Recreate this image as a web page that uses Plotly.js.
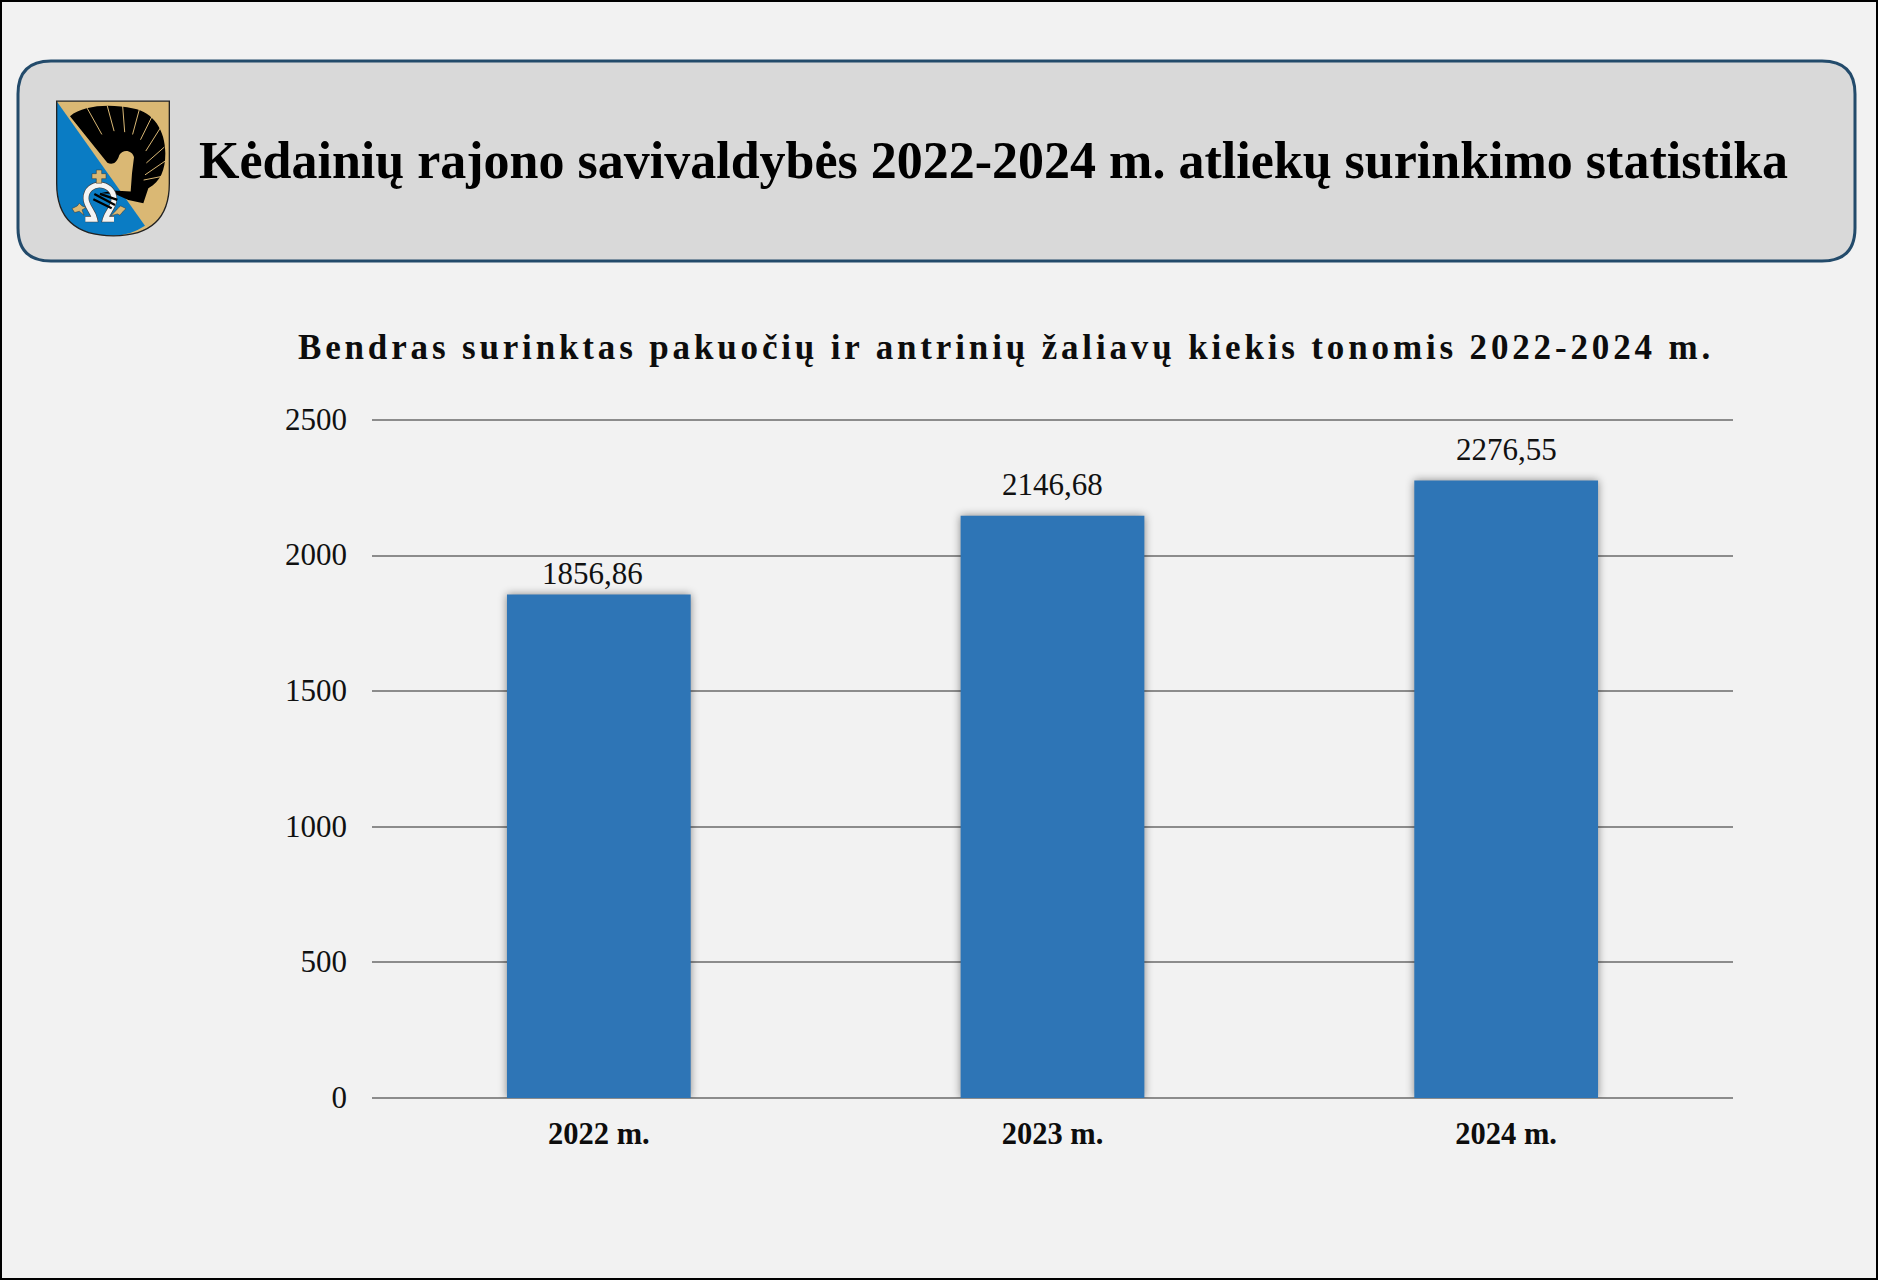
<!DOCTYPE html>
<html><head><meta charset="utf-8">
<script src="https://cdn.plot.ly/plotly-3.0.1.min.js"></script>
<style>
html,body{margin:0;padding:0;background:#f2f2f2;}
#c{width:1878px;height:1280px;}
.gtitle{letter-spacing:3.85px;}
.yaxislayer-above{transform:translateY(-1px);}
</style></head><body><div id="c"></div>
<script>
const categories = ["2022 m.","2023 m.","2024 m."];
const values = [1856.86,2146.68,2276.55];
const valueLabels = ["1856,86","2146,68","2276,55"];
const labelShiftX = [-6,0,0];
const labelShiftY = [1,12,12];
const yTicks = [0,500,1000,1500,2000,2500];
const headerText = "Kėdainių rajono savivaldybės 2022-2024 m. atliekų surinkimo statistika";
const chartTitle = "Bendras surinktas pakuočių ir antrinių žaliavų kiekis tonomis 2022-2024 m.";

const W=1878,H=1280,L=372,R=1733,T=418,B=1098;
const yTop=2500*(B-T)/678;
const px=x=>(x-L)/(R-L), py=y=>(B-y)/(B-T);
const P=(x,y)=>px(x)+' '+py(y);
const serif='"Liberation Serif","Times New Roman",serif';

const horseshoe="M256 538H284C278 510 258 500 258 475C258 448 280 435 298 435C320 435 342 450 342 478C342 502 322 515 316 538H342";
const shield=`<svg xmlns="http://www.w3.org/2000/svg" viewBox="165 178 348 415" width="348" height="415">
<path d="M170 183H508V430Q508 588 340 588Q170 588 170 430Z" fill="#dab874"/>
<path d="M170 183L435 558Q390 588 340 588Q170 588 170 430Z" fill="#0a7cc4"/>
<path d="M210 228C250 195 330 190 400 205C460 216 496 270 496 340C496 390 482 425 445 445L430 490L385 480L345 462L300 460L340 452L392 455L396 400L402 352C398 332 370 325 358 345C350 372 335 375 322 368Z" fill="#000"/>
<g fill="none" stroke="#dab874" stroke-width="3" stroke-linecap="round">
<path d="M262 205L305 282M322 198L342 272M368 198L374 275M418 208L398 282M458 225L422 298M482 262L438 332M492 322L440 368M494 364L436 404M492 408L432 420"/></g>
<path d="${horseshoe}" fill="none" stroke="#444" stroke-width="19"/>
<path d="${horseshoe}" fill="none" stroke="#f4f4f4" stroke-width="15"/>
<path d="M283 462L345 495M280 478L335 505M300 462L352 480" stroke="#000" stroke-width="7" fill="none"/>
<g fill="#dab874" stroke="#333" stroke-width="1.5">
<path d="M289 390H305V401H318V416H305V430H289V416H276V401H289Z"/>
<path d="M216 506L232 498L238 490L246 498L258 503L246 510L252 526L238 514L224 518Z"/>
<path d="M378 506L362 498L356 503L350 510L332 528L352 522L360 526L366 518Z"/></g>
<path d="M170 183H508V430Q508 588 340 588Q170 588 170 430Z" fill="none" stroke="#222" stroke-width="4"/>
</svg>`;

const trace={type:'bar',x:categories,y:values,width:0.405,
  marker:{color:'#2e75b6',line:{width:0}},hoverinfo:'skip'};

const r=33,bx0=18,bx1=1855,by0=61,by1=261;
const boxPath=`M ${P(bx0+r,by0)} L ${P(bx1-r,by0)} Q ${P(bx1,by0)} ${P(bx1,by0+r)} L ${P(bx1,by1-r)} Q ${P(bx1,by1)} ${P(bx1-r,by1)} L ${P(bx0+r,by1)} Q ${P(bx0,by1)} ${P(bx0,by1-r)} L ${P(bx0,by0+r)} Q ${P(bx0,by0)} ${P(bx0+r,by0)} Z`;

const layout={width:W,height:H,margin:{l:L,r:W-R,t:T,b:H-B,pad:0},
  paper_bgcolor:'#f2f2f2',plot_bgcolor:'#f2f2f2',showlegend:false,
  font:{family:serif,color:'#111'},
  title:{text:'<b>'+chartTitle+'</b>',font:{family:serif,size:35,color:'#0d0d0d'},
    xref:'container',yref:'container',x:1006/W,xanchor:'center',y:1-347/H,yanchor:'middle'},
  xaxis:{type:'category',categories:categories,range:[-0.5,2.5],showgrid:false,zeroline:false,showline:false,
    ticks:'',tickfont:{family:serif,size:30.5,color:'#0d0d0d'},
    tickprefix:'<b>',ticksuffix:'</b>',ticklabelstandoff:14},
  yaxis:{range:[0,yTop],tickmode:'array',tickvals:yTicks,ticktext:yTicks.map(String),
    showgrid:true,gridcolor:'#8c8c8c',gridwidth:2,zeroline:true,zerolinecolor:'#8c8c8c',zerolinewidth:2,
    showline:false,ticks:'',tickfont:{family:serif,size:31,color:'#111'},ticklabelstandoff:24},
  shapes:[
    {type:'path',xref:'paper',yref:'paper',path:boxPath,fillcolor:'#d9d9d9',line:{color:'#234b6b',width:3},layer:'below'},
    {type:'rect',xref:'paper',yref:'paper',x0:px(1),x1:px(W-1),y0:py(1),y1:py(H-1),line:{color:'#000',width:2},fillcolor:'rgba(0,0,0,0)'}
  ],
  images:[{source:'data:image/svg+xml;charset=utf-8,'+encodeURIComponent(shield),xref:'paper',yref:'paper',
    x:px(55),y:py(99.5),sizex:px(171)-px(55),sizey:py(99.5)-py(237.5),sizing:'stretch',xanchor:'left',yanchor:'top',layer:'above'}],
  annotations:[
    {xref:'paper',yref:'paper',x:px(197),y:py(160.5),xanchor:'left',yanchor:'middle',showarrow:false,
     text:'<b>'+headerText+'</b>',font:{family:serif,size:52,color:'#000'}}
  ].concat(categories.map((c,i)=>({xref:'x',yref:'y',x:c,y:values[i],xshift:labelShiftX[i],yshift:labelShiftY[i],yanchor:'bottom',
     showarrow:false,text:valueLabels[i],font:{family:serif,size:31,color:'#111'}})))
};
Plotly.newPlot('c',[trace],layout,{staticPlot:true,displayModeBar:false}).then(gd=>{
  gd.querySelectorAll('.bars .point path').forEach(p=>{p.style.filter='drop-shadow(0 0 4px rgba(0,0,0,0.45))';});
});
</script></body></html>
